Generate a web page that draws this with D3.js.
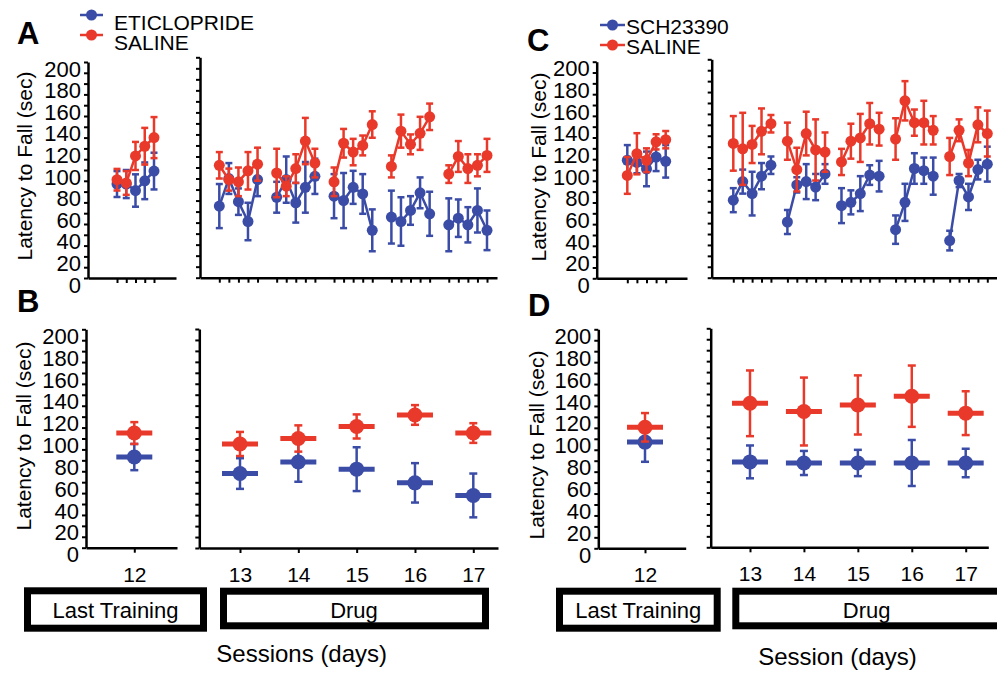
<!DOCTYPE html>
<html>
<head>
<meta charset="utf-8">
<script src="https://cdn.jsdelivr.net/npm/d3@7"></script>
<style>
  body { margin: 0; background: #fff; }
  svg { display: block; font-family: "Liberation Sans", Arial, sans-serif; }
  .axis path, .axis line { stroke: #000; stroke-width: 2.5; }
  .axis .tick line { stroke-width: 2; }
</style>
</head>
<body>
<svg id="chart" width="997" height="675"></svg>
<script>
// ---- data -------------------------------------------------------------
const trainDay = [12];
const drugDays = [13, 14, 15, 16, 17];
const yTickValues = [0, 20, 40, 60, 80, 100, 120, 140, 160, 180, 200];

// panel A : five trials per session
const etiTrainMean = [87, 87, 81, 90, 99];
const etiTrainErr = [12, 13, 15, 17, 17];
const salATrainMean = [91, 88, 113, 122, 130];
const salATrainErr = [10, 11, 13, 17, 19];
const etiDrugMean = [65, 90, 69, 51, 89, 73, 89, 68, 82, 92, 74, 70, 82, 76, 43, 55, 51, 61, 77, 58, 48, 54, 48, 61, 43];
const etiDrugErr = [20, 14, 12, 17, 15, 14, 21, 18, 23, 16, 20, 25, 15, 18, 19, 24, 22, 13, 14, 20, 24, 17, 16, 20, 18];
const salADrugMean = [102, 89, 87, 97, 103, 95, 83, 99, 124, 104, 87, 122, 114, 120, 139, 101, 133, 121, 131, 146, 94, 110, 99, 102, 111];
const salADrugErr = [12, 10, 13, 17, 15, 22, 9, 13, 21, 13, 13, 13, 12, 9, 12, 10, 15, 9, 15, 12, 8, 14, 13, 10, 15];

// panel B : session means
const etiDayMean = [83, 68, 78.5, 72, 59.5, 48];
const etiDayErr = [12, 14, 18, 20, 18, 20];
const salBDayMean = [105, 95, 100, 111, 121.5, 105];
const salBDayErr = [10, 11, 12, 11, 9, 9];

// panel C : five trials per session
const schTrainMean = [109, 107, 101, 112, 108];
const schTrainErr = [14, 10, 16, 13, 15];
const salCTrainMean = [95, 115, 109, 126, 128];
const salCTrainErr = [17, 19, 11, 7, 8];
const schDrugMean = [71, 88, 77, 93, 103, 51, 85, 88, 83, 95, 66, 69, 77, 94, 93, 44, 69, 100, 98, 93, 34, 89, 74, 99, 104];
const schDrugErr = [11, 11, 20, 12, 8, 11, 7, 16, 12, 9, 16, 11, 16, 9, 14, 13, 17, 14, 12, 17, 9, 6, 12, 9, 16];
const salCDrugMean = [123, 118, 122, 134, 141, 125, 99, 132, 117, 115, 106, 125, 128, 141, 136, 127, 162, 142, 142, 135, 111, 135, 105, 140, 132];
const salCDrugErr = [25, 33, 17, 21, 8, 17, 20, 20, 28, 18, 12, 16, 22, 19, 15, 19, 18, 12, 20, 13, 17, 10, 12, 16, 21];

// panel D : session means
const schDayMean = [97, 78, 77, 77, 77, 77];
const schDayErr = [18, 15, 11, 12, 21, 13];
const salDDayMean = [110.5, 131.5, 124, 130, 138, 122.5];
const salDDayErr = [13, 30, 31, 27, 28, 20];

const legendA = ["ETICLOPRIDE", "SALINE"];
const legendC = ["SCH23390", "SALINE"];
const phaseLabels = ["Last Training", "Drug"];

const BLUE = "#3a4ca6", RED = "#e8392a";
const svg = d3.select("#chart");

// linear scale fixed by two anchors, domain stretched to cover the axis line
function linScale(v0, p0, v1, p1, r0, r1) {
  const s = d3.scaleLinear().domain([v0, v1]).range([p0, p1]);
  return d3.scaleLinear().domain([s.invert(r0), s.invert(r1)]).range([r0, r1]);
}

function drawYAxis(y, x0, withLabels) {
  const g = svg.append("g").attr("class", "axis").attr("transform", `translate(${x0},0)`)
    .call(d3.axisLeft(y).tickValues(d3.range(0, 201, 10)).tickSize(4).tickSizeOuter(0).tickFormat(""));
  if (withLabels) {
    const l = svg.append("g").attr("transform", `translate(${x0},0)`)
      .call(d3.axisLeft(y).tickValues(yTickValues).tickSize(0).tickPadding(7))
      .attr("font-size", null).attr("font-family", null);
    l.select(".domain").remove();
    l.selectAll("text").attr("font-size", 22).attr("fill", "#000").attr("transform", "translate(0,7)");
  }
}

function drawXAxis(x, y0, ticks, withLabels) {
  const g = svg.append("g").attr("class", "axis").attr("transform", `translate(0,${y0})`)
    .call(d3.axisBottom(x).tickValues(ticks).tickSize(5).tickSizeOuter(0).tickPadding(14)
      .tickFormat(withLabels ? d3.format("d") : ""))
    .attr("font-size", null).attr("font-family", null);
  g.selectAll("text").attr("font-size", 21).attr("fill", "#000");
}

function errBar(g, x, y, m, e, cap, color, w) {
  g.append("line").attr("x1", x).attr("x2", x).attr("y1", y(m - e)).attr("y2", y(m + e))
    .attr("stroke", color).attr("stroke-width", w);
  [m - e, m + e].forEach(v => g.append("line").attr("x1", x - cap).attr("x2", x + cap)
    .attr("y1", y(v)).attr("y2", y(v)).attr("stroke", color).attr("stroke-width", w));
}

// trial-by-trial panel
function trialPanel(o) {
  const y = d3.scaleLinear().domain([0, 200]).range([o.y0, o.y200]);
  const lastPos = (o.groups - 1) * o.step + 4;
  const x = linScale(0, o.p0, lastPos, o.pN, o.axisX, o.xEnd);
  const positions = [];
  for (let gi = 0; gi < o.groups; gi++) for (let t = 0; t < 5; t++) positions.push(gi * o.step + t);
  drawYAxis(y, o.axisX, o.labels);
  drawXAxis(x, o.y0, positions, false);
  o.series.forEach(s => {
    const rows = s.mean.map((m, i) => ({ g: Math.floor(i / 5), pos: positions[i], m, e: s.err[i] }));
    const g = svg.append("g");
    const line = d3.line().x(d => x(d.pos)).y(d => y(d.m));
    d3.groups(rows, d => d.g).forEach(([, r]) => g.append("path").attr("d", line(r))
      .attr("fill", "none").attr("stroke", s.color).attr("stroke-width", 2.5));
    rows.forEach(d => errBar(g, x(d.pos), y, d.m, d.e, 3.5, s.color, 2.5));
    g.selectAll("circle").data(rows).join("circle")
      .attr("cx", d => x(d.pos)).attr("cy", d => y(d.m)).attr("r", 5.5).attr("fill", s.color);
  });
}

// session-mean panel
function dayPanel(o) {
  const y = d3.scaleLinear().domain([0, 200]).range([o.y0, o.y200]);
  const x = linScale(o.days[0], o.p0, o.days[0] + (o.days.length > 1 ? o.days.length - 1 : 1),
    o.days.length > 1 ? o.pN : o.p0 + 50, o.axisX, o.xEnd);
  drawYAxis(y, o.axisX, o.labels);
  drawXAxis(x, o.y0, o.days, true);
  o.series.forEach(s => {
    const g = svg.append("g");
    o.days.forEach((day, i) => {
      const cx = x(day), m = s.mean[i];
      errBar(g, cx, y, m, s.err[i], 4, s.color, 2.5);
      g.append("line").attr("x1", cx - 18).attr("x2", cx + 18).attr("y1", y(m)).attr("y2", y(m))
        .attr("stroke", s.color).attr("stroke-width", 5);
      g.append("circle").attr("cx", cx).attr("cy", y(m)).attr("r", 7.5).attr("fill", s.color);
    });
  });
}

// ---- panel A ----
trialPanel({ y0: 278, y200: 62, axisX: 88, xEnd: 176, p0: 117, pN: 154, groups: 1, step: 6, labels: true,
  series: [{ mean: etiTrainMean, err: etiTrainErr, color: BLUE }, { mean: salATrainMean, err: salATrainErr, color: RED }] });
trialPanel({ y0: 277.7, y200: 57.3, axisX: 200, xEnd: 497, p0: 219.3, pN: 487, groups: 5, step: 6, labels: false,
  series: [{ mean: etiDrugMean, err: etiDrugErr, color: BLUE }, { mean: salADrugMean, err: salADrugErr, color: RED }] });

// ---- panel B ----
dayPanel({ y0: 547.7, y200: 329.3, axisX: 86, xEnd: 177, p0: 134.3, days: trainDay, labels: true,
  series: [{ mean: etiDayMean.slice(0, 1), err: etiDayErr.slice(0, 1), color: BLUE }, { mean: salBDayMean.slice(0, 1), err: salBDayErr.slice(0, 1), color: RED }] });
dayPanel({ y0: 548, y200: 329, axisX: 199.3, xEnd: 498, p0: 240, pN: 473.3, days: drugDays, labels: false,
  series: [{ mean: etiDayMean.slice(1), err: etiDayErr.slice(1), color: BLUE }, { mean: salBDayMean.slice(1), err: salBDayErr.slice(1), color: RED }] });

// ---- panel C ----
trialPanel({ y0: 278.3, y200: 61.7, axisX: 596.7, xEnd: 687, p0: 627.3, pN: 665.7, groups: 1, step: 5.75, labels: true,
  series: [{ mean: schTrainMean, err: schTrainErr, color: BLUE }, { mean: salCTrainMean, err: salCTrainErr, color: RED }] });
trialPanel({ y0: 277.7, y200: 59.3, axisX: 711.7, xEnd: 997, p0: 733.3, pN: 987.3, groups: 5, step: 5.75, labels: false,
  series: [{ mean: schDrugMean, err: schDrugErr, color: BLUE }, { mean: salCDrugMean, err: salCDrugErr, color: RED }] });

// ---- panel D ----
dayPanel({ y0: 548.3, y200: 329.3, axisX: 598.3, xEnd: 685.7, p0: 645, days: trainDay, labels: true,
  series: [{ mean: schDayMean.slice(0, 1), err: schDayErr.slice(0, 1), color: BLUE }, { mean: salDDayMean.slice(0, 1), err: salDDayErr.slice(0, 1), color: RED }] });
dayPanel({ y0: 547.3, y200: 328.3, axisX: 710.7, xEnd: 988.3, p0: 750, pN: 965.7, days: drugDays, labels: false,
  series: [{ mean: schDayMean.slice(1), err: schDayErr.slice(1), color: BLUE }, { mean: salDDayMean.slice(1), err: salDDayErr.slice(1), color: RED }] });

// ---- panel letters ----
[["A", 17, 44], ["B", 17, 312], ["C", 527, 51], ["D", 528, 316]].forEach(([t, x, y]) =>
  svg.append("text").attr("x", x).attr("y", y).attr("font-size", 31).attr("font-weight", "bold").text(t));

// ---- legends ----
function legend(names, x0, x1, ys, tx, bases) {
  names.forEach((n, i) => {
    const c = i === 0 ? BLUE : RED;
    svg.append("line").attr("x1", x0).attr("x2", x1).attr("y1", ys[i]).attr("y2", ys[i]).attr("stroke", c).attr("stroke-width", 2.5);
    svg.append("circle").attr("cx", (x0 + x1) / 2).attr("cy", ys[i]).attr("r", 5.5).attr("fill", c);
    svg.append("text").attr("x", tx).attr("y", bases[i]).attr("font-size", 21).text(n);
  });
}
legend(legendA, 80, 103, [15, 35], 114, [29.5, 49.5]);
legend(legendC, 600, 625, [25, 45], 626, [33.5, 53.5]);

// ---- y labels ----
[[32, 166], [31, 436], [546, 167], [544, 445]].forEach(([x, y]) =>
  svg.append("text").attr("transform", `translate(${x},${y}) rotate(-90)`).attr("text-anchor", "middle")
    .attr("font-size", 21).text("Latency to Fall (sec)"));

// ---- phase boxes ----
function box(x0, x1, y0, y1, label, tx) {
  svg.append("rect").attr("x", x0 + 3.5).attr("y", y0 + 3.5).attr("width", x1 - x0 - 7).attr("height", y1 - y0 - 7)
    .attr("fill", "#fff").attr("stroke", "#000").attr("stroke-width", 7);
  svg.append("text").attr("x", tx).attr("y", 618).attr("text-anchor", "middle").attr("font-size", 22).text(label);
}
box(24, 207, 587.3, 631.7, phaseLabels[0], 115.5);
box(220, 489, 587.7, 629.3, phaseLabels[1], 354);
box(556, 720.7, 587.7, 631.7, phaseLabels[0], 638.3);
box(732.3, 1005, 587.7, 629.3, phaseLabels[1], 866.7);

svg.append("text").attr("x", 301.7).attr("y", 662).attr("text-anchor", "middle").attr("font-size", 24).text("Sessions (days)");
svg.append("text").attr("x", 837.5).attr("y", 665).attr("text-anchor", "middle").attr("font-size", 24).text("Session (days)");
</script>
</body>
</html>
